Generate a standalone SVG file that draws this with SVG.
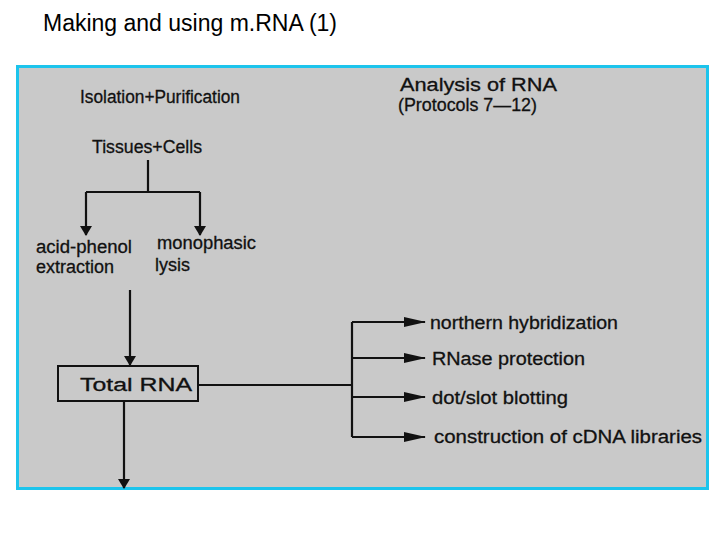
<svg xmlns="http://www.w3.org/2000/svg" width="720" height="540" viewBox="0 0 720 540">
<defs>
<marker id="ah" markerWidth="10" markerHeight="12" refX="9" refY="6" orient="auto" markerUnits="userSpaceOnUse"><path d="M0,0 L10,6 L0,12 Z" fill="#111"/></marker>
<marker id="ah2" markerWidth="22" markerHeight="10" refX="21" refY="5" orient="auto" markerUnits="userSpaceOnUse"><path d="M0,0 L22,5 L0,10 Z" fill="#111"/></marker>
<style>
.t{font-family:"Liberation Sans",Arial,sans-serif;font-size:18px;fill:#111;stroke:#111;stroke-width:0.3}
.c{stroke:#111;stroke-width:2.2;fill:none}
</style>
</defs>
<rect width="720" height="540" fill="#fff"/>
<text x="43" y="31" font-family="Liberation Sans,Arial,sans-serif" font-size="23" fill="#000">Making and using m.RNA (1)</text>
<rect x="17.5" y="66.5" width="690" height="422" fill="#c9c9c9" stroke="#1cc4ec" stroke-width="3"/>
<g id="connectors">
<path class="c" d="M148,160 V192 M86,192 H200"/>
<path class="c" d="M86,192 V235" marker-end="url(#ah)"/>
<path class="c" d="M200,192 V235" marker-end="url(#ah)"/>
<path class="c" d="M130,290 V365" marker-end="url(#ah)"/>
<path class="c" d="M124,402 V488" marker-end="url(#ah)"/>
<path class="c" d="M198,385 H352 M352,322 V437"/>
<path class="c" d="M352,322 H425" marker-end="url(#ah2)"/>
<path class="c" d="M352,358 H425" marker-end="url(#ah2)"/>
<path class="c" d="M352,397 H425" marker-end="url(#ah2)"/>
<path class="c" d="M352,437 H425" marker-end="url(#ah2)"/>
</g>
<g id="isolation"><text class="t" x="80" y="103" font-size="17" textLength="160" lengthAdjust="spacingAndGlyphs">Isolation+Purification</text></g>
<g id="analysis"><text class="t" x="400" y="91" font-size="17" textLength="157" lengthAdjust="spacingAndGlyphs">Analysis of RNA</text><text class="t" x="398" y="111" font-size="17" textLength="139" lengthAdjust="spacingAndGlyphs">(Protocols 7—12)</text></g>
<g id="tissues"><text class="t" x="92" y="153" textLength="110" lengthAdjust="spacingAndGlyphs">Tissues+Cells</text></g>
<g id="acid"><text class="t" x="36" y="253" textLength="96" lengthAdjust="spacingAndGlyphs">acid-phenol</text><text class="t" x="36" y="273" textLength="78" lengthAdjust="spacingAndGlyphs">extraction</text></g>
<g id="mono"><text class="t" x="157" y="249" textLength="99" lengthAdjust="spacingAndGlyphs">monophasic</text><text class="t" x="155" y="271" textLength="35" lengthAdjust="spacingAndGlyphs">lysis</text></g>
<g id="total"><rect x="58" y="366" width="140" height="35" fill="none" stroke="#111" stroke-width="2"/><text class="t" x="80" y="391" font-size="19" textLength="112" lengthAdjust="spacingAndGlyphs">Total RNA</text></g>
<g id="northern"><text class="t" x="430" y="329" font-size="19" textLength="188" lengthAdjust="spacingAndGlyphs">northern hybridization</text></g>
<g id="rnase"><text class="t" x="432" y="365" font-size="19" textLength="153" lengthAdjust="spacingAndGlyphs">RNase protection</text></g>
<g id="dot"><text class="t" x="432" y="404" font-size="19" textLength="136" lengthAdjust="spacingAndGlyphs">dot/slot blotting</text></g>
<g id="cdna"><text class="t" x="434" y="443" font-size="19" textLength="268" lengthAdjust="spacingAndGlyphs">construction of cDNA libraries</text></g>
</svg>
